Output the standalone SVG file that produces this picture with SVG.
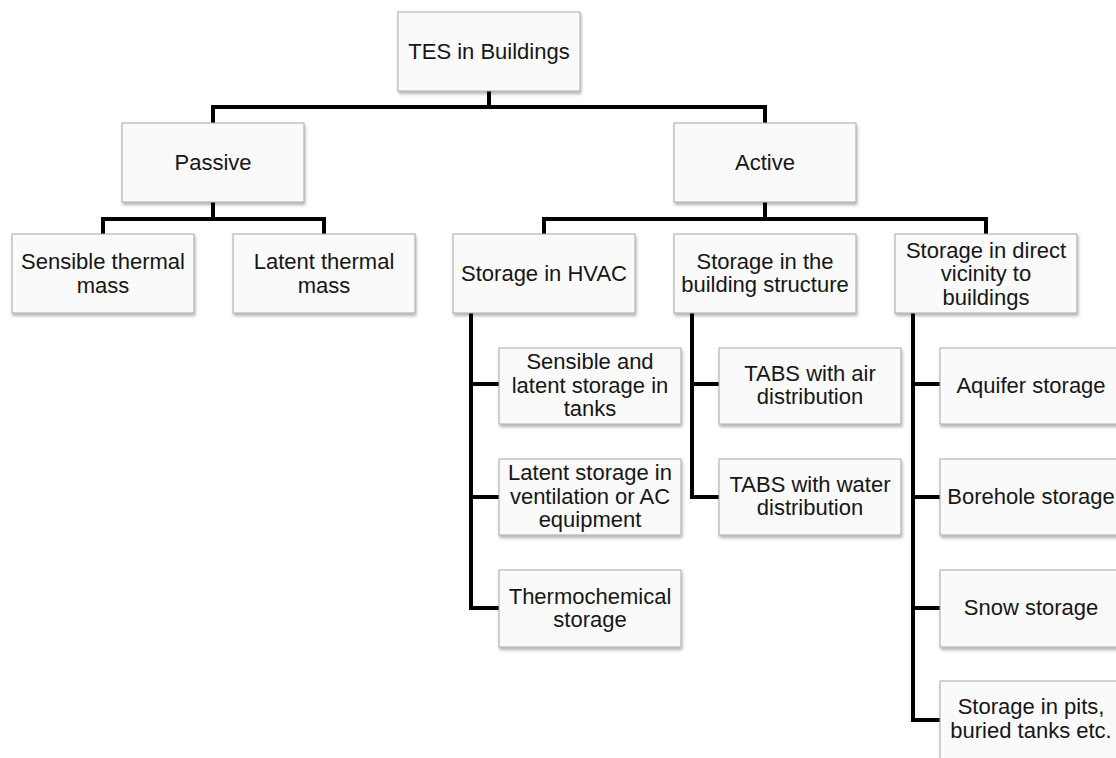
<svg xmlns="http://www.w3.org/2000/svg" width="1116" height="758" viewBox="0 0 1116 758">
<style>
.box{fill:#fafafa;stroke:#a8a8a8;stroke-width:1;filter:url(#sh)}
.t{font-family:"Liberation Sans",Arial,sans-serif;font-size:22px;fill:#161616;text-anchor:middle}
.c{fill:none;stroke:#000;stroke-width:4;stroke-linejoin:miter}
</style>
<defs>
<filter id="sh" x="-10%" y="-10%" width="125%" height="130%">
<feDropShadow dx="1" dy="2.5" stdDeviation="1.5" flood-color="#000" flood-opacity="0.3"/>
</filter>
</defs>
<rect width="1116" height="758" fill="#fff"/>
<g id="connectors">
<path class="c" d="M213,123 V107 H765 V123 M489,91 V107"/>
<path class="c" d="M103,234 V219 H324 V234 M213,202 V219"/>
<path class="c" d="M544,234 V219 H986 V234 M765,202 V219"/>
<path class="c" d="M471,313 V608 H499 M471,384 H499 M471,497 H499"/>
<path class="c" d="M692,313 V497 H719 M692,384 H719"/>
<path class="c" d="M913,313 V720 H940 M913,384 H940 M913,497 H940 M913,608 H940"/>
</g>
<g id="root"><rect class="box" x="398" y="12" width="182" height="79"/><text class="t" x="489" y="59">TES in Buildings</text></g>
<g id="passive"><rect class="box" x="122" y="123" width="182" height="79"/><text class="t" x="213" y="170">Passive</text></g>
<g id="active"><rect class="box" x="674" y="123" width="182" height="79"/><text class="t" x="765" y="170">Active</text></g>
<g id="sensible"><rect class="box" x="12" y="234" width="182" height="79"/><text class="t" x="103" y="269">Sensible thermal</text><text class="t" x="103" y="293">mass</text></g>
<g id="latent"><rect class="box" x="233" y="234" width="182" height="79"/><text class="t" x="324" y="269">Latent thermal</text><text class="t" x="324" y="293">mass</text></g>
<g id="hvac"><rect class="box" x="453" y="234" width="182" height="79"/><text class="t" x="544" y="281">Storage in HVAC</text></g>
<g id="structure"><rect class="box" x="674" y="234" width="182" height="79"/><text class="t" x="765" y="269">Storage in the</text><text class="t" x="765" y="292">building structure</text></g>
<g id="vicinity"><rect class="box" x="895" y="234" width="182" height="79"/><text class="t" x="986" y="258">Storage in direct</text><text class="t" x="986" y="281">vicinity to</text><text class="t" x="986" y="305">buildings</text></g>
<g id="tanks"><rect class="box" x="499" y="348" width="182" height="76"/><text class="t" x="590" y="369">Sensible and</text><text class="t" x="590" y="393">latent storage in</text><text class="t" x="590" y="416">tanks</text></g>
<g id="ventilation"><rect class="box" x="499" y="459" width="182" height="76"/><text class="t" x="590" y="480">Latent storage in</text><text class="t" x="590" y="504">ventilation or AC</text><text class="t" x="590" y="527">equipment</text></g>
<g id="thermochemical"><rect class="box" x="499" y="570" width="182" height="77"/><text class="t" x="590" y="604">Thermochemical</text><text class="t" x="590" y="627">storage</text></g>
<g id="tabs-air"><rect class="box" x="719" y="348" width="182" height="76"/><text class="t" x="810" y="381">TABS with air</text><text class="t" x="810" y="404">distribution</text></g>
<g id="tabs-water"><rect class="box" x="719" y="459" width="182" height="76"/><text class="t" x="810" y="492">TABS with water</text><text class="t" x="810" y="515">distribution</text></g>
<g id="aquifer"><rect class="box" x="940" y="348" width="182" height="76"/><text class="t" x="1031" y="393">Aquifer storage</text></g>
<g id="borehole"><rect class="box" x="940" y="459" width="182" height="76"/><text class="t" x="1031" y="504">Borehole storage</text></g>
<g id="snow"><rect class="box" x="940" y="570" width="182" height="77"/><text class="t" x="1031" y="615">Snow storage</text></g>
<g id="pits"><rect class="box" x="940" y="681" width="182" height="80"/><text class="t" x="1031" y="714">Storage in pits,</text><text class="t" x="1031" y="738">buried tanks etc.</text></g>
</svg>
